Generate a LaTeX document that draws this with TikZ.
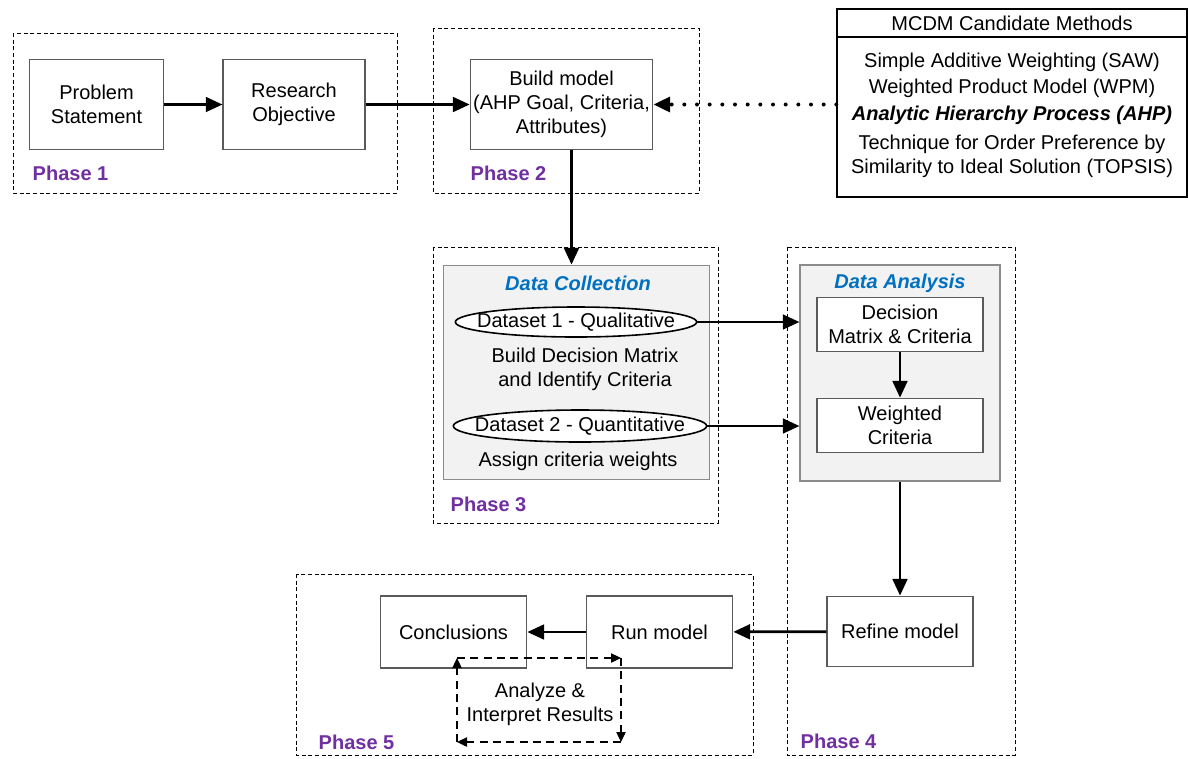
\documentclass[tikz,border=0pt]{standalone}
\usepackage{fontspec}
\setmainfont{Liberation Sans}
\usetikzlibrary{arrows.meta,positioning,shapes.geometric}

\definecolor{phasepurple}{RGB}{112,48,160}
\definecolor{titleblue}{RGB}{0,112,192}
\definecolor{panelgray}{RGB}{242,242,242}
\definecolor{edgegray}{RGB}{90,90,90}

\tikzset{
	box/.style={draw=edgegray, fill=white, line width=0.8pt, align=center, inner xsep=1pt},
	phaseframe/.style={draw, dash pattern=on 3pt off 2pt, line width=0.7pt},
	panel/.style={draw=edgegray!70, fill=panelgray, line width=0.8pt},
	phaselabel/.style={anchor=west, text=phasepurple, font=\fontsize{15}{18}\selectfont\bfseries},
	paneltitle/.style={text=titleblue, font=\fontsize{15}{18}\selectfont\bfseries\itshape},
	dataset/.style={ellipse, draw, line width=1.2pt, fill=white, inner sep=0pt},
	flow/.style={-{Triangle[length=12.5pt,width=11pt]}, line width=2pt},
	dotflow/.style={-{Triangle[length=12.5pt,width=11pt]}, line width=3pt, line cap=round, dash pattern=on 0pt off 9.5pt},
	loopflow/.style={-{Triangle[length=7.5pt,width=7pt]}, dash pattern=on 6pt off 4pt, line width=0.9pt},
}

\begin{document}
\begin{tikzpicture}[x=0.75pt, y=-0.75pt, font=\fontsize{15}{18}\selectfont]
	\useasboundingbox (0,0) rectangle (1188,758);

	\draw [phaseframe] (13,33) rectangle (397,193);
	\draw [phaseframe] (433,28) rectangle (699,193);
	\draw [phaseframe] (433,247) rectangle (718,523);
	\draw [phaseframe] (787,247) rectangle (1015,755);
	\draw [phaseframe] (296,574) rectangle (753,755);
	\node [phaselabel] (p1) at (28,173) {Phase 1};
	\node [phaselabel] (p2) at (466,173) {Phase 2};
	\node [phaselabel] (p3) at (446,504) {Phase 3};
	\node [phaselabel] (p4) at (796,741) {Phase 4};
	\node [phaselabel] (p5) at (314,742) {Phase 5};

	\node [panel, minimum width=200pt, minimum height=161pt] (c) at (576.5,372.5) {};
	\node [panel, minimum width=150pt, minimum height=162pt] (a) at (900,373) {};
	\node [paneltitle] (ct) at (578,283) {Data Collection};
	\node [paneltitle] (at) at (900,283) {Data Analysis};

	\node [box, minimum width=101pt, minimum height=68pt] (0) at (96.5,104.5) {Problem\\Statement};
	\node [box, minimum width=106.5pt, minimum height=68pt] (1) at (294,104.5) {Research\\Objective};
	\node [box, minimum width=137pt, minimum height=68pt] (2) at (561.5,104.5) {Build model\\(AHP Goal, Criteria,\\Attributes)};

	\node [draw, line width=1pt, minimum width=262.5pt, minimum height=141pt] (3) at (1012,103) {};
	\node [draw, line width=1pt, anchor=north, minimum width=262.5pt, minimum height=21pt] (4) at (3.north) {MCDM Candidate Methods};
	\node (5) at (1012,62) {Simple Additive Weighting (SAW)};
	\node (6) at (1012,88) {Weighted Product Model (WPM)};
	\node [font=\fontsize{15}{18}\selectfont\bfseries\itshape] (7) at (1012,115) {Analytic Hierarchy Process (AHP)};
	\node [align=center] (8) at (1012,156) {Technique for Order Preference by\\Similarity to Ideal Solution (TOPSIS)};

	\node [dataset, minimum width=181pt, minimum height=22.5pt] (9) at (576,322) {\makebox[0pt]{Dataset 1 - Qualitative}};
	\node [align=center] (10) at (585,369) {Build Decision Matrix\\and Identify Criteria};
	\node [dataset, minimum width=190pt, minimum height=24pt] (11) at (580,426) {\makebox[0pt]{Dataset 2 - Quantitative}};
	\node (12) at (578,461) {Assign criteria weights};

	\node [box, minimum width=124.5pt, minimum height=41pt] (13) at (900,324.5) {Decision\\Matrix \& Criteria};
	\node [box, minimum width=124.5pt, minimum height=41pt] (14) at (900,425.5) {Weighted\\Criteria};

	\node [box, minimum width=109.5pt, minimum height=53pt] (15) at (900,631.5) {Refine model};
	\node [box, minimum width=110pt, minimum height=54pt] (16) at (659.5,632) {Run model};
	\node [box, minimum width=110pt, minimum height=54pt] (17) at (453.5,632) {Conclusions};
	\node [align=center] (18) at (540,704) {Analyze \&\\Interpret Results};

	\coordinate (l1) at (457,658);
	\coordinate (l2) at (621,658);
	\coordinate (l3) at (621,742);
	\coordinate (l4) at (457,742);

	\draw [flow] (0) to (1);
	\draw [flow] (1) to (2);
	\draw [dotflow] (2.east -| 3.west) to (2.east);
	\draw [flow] ([xshift=7.5pt]2.south) to ([xshift=7.5pt]2.south |- c.north);
	\draw [flow] (9.east) to (9.east -| a.west);
	\draw [flow] (11.east) to (11.east -| a.west);
	\draw [flow] (13) to (14);
	\draw [flow] (a) to (15);
	\draw [flow] (15) to (16);
	\draw [flow] (16) to (17);
	\draw [loopflow] (l1) to (l2);
	\draw [loopflow] (l2) to (l3);
	\draw [loopflow] (l3) to (l4);
	\draw [loopflow] (l4) to (l1);
\end{tikzpicture}
\end{document}
